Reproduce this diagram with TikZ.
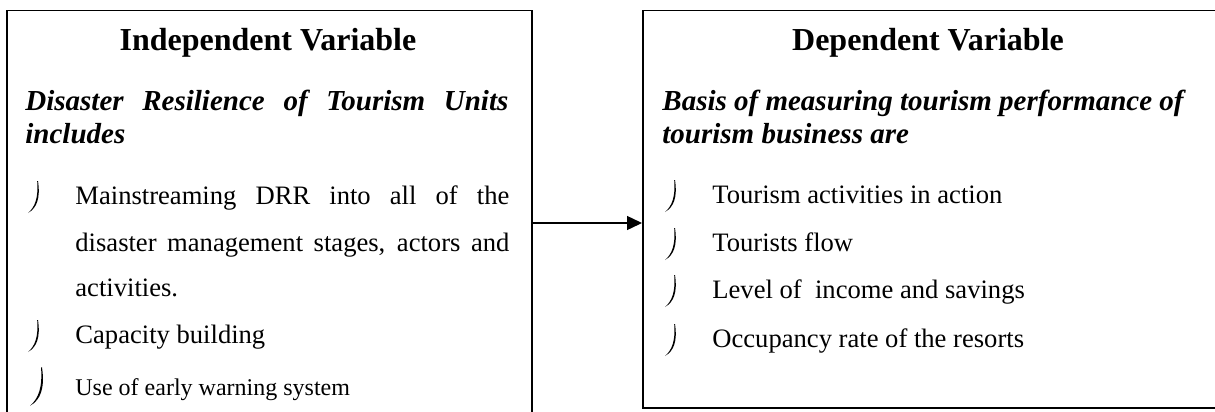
\documentclass[tikz,border=0pt]{standalone}
\usepackage{fontspec}
\setmainfont{Liberation Serif}
\usetikzlibrary{arrows.meta}
\usetikzlibrary{calc}

\begin{document}
\begin{tikzpicture}[x = 0.5pt, y = -0.5pt,
  box/.style = {draw, line width = 0.9pt, anchor = north west, inner sep = 0},
  head/.style = {anchor = base, inner sep = 0, font = \fontsize{16}{19}\selectfont\bfseries},
  lead/.style = {anchor = base west, inner sep = 0, font = \fontsize{14.5}{17}\selectfont\bfseries\itshape},
  item/.style = {anchor = base west, inner sep = 0, font = \fontsize{13.3}{16}\selectfont},
  small/.style = {anchor = base west, inner sep = 0, font = \fontsize{12}{14}\selectfont},
  arr/.style = {line width = 0.7pt, -{Triangle[length = 7.5pt, width = 7pt]}},
  pics/bul/.style = {code = {
    \fill (10, -23) .. controls (12.5, -6) and (9, 4) .. (0, 9)
      .. controls (7, 3) and (10.5, -6) .. (9.2, -23) -- cycle;}}]
  \useasboundingbox (0, 0) rectangle (1215, 412);

  % the two boxes
  \node[box, minimum width = 262.5pt, minimum height = 212pt] (indep) at (6, 9.5) {};
  \node[box, minimum width = 290pt, minimum height = 198.75pt] (dep) at (642, 9.5) {};

  % left box
  \node[head] (indeptitle) at (268, 50) {Independent Variable};
  \node[lead] (indeplead) at (25, 110)
  {\makebox[241.5pt][s]{Disaster Resilience of Tourism Units}};
  \node[lead] (indeplead2) at (25, 143) {includes};

  \pic at (28, 204) {bul};
  \node[item] (drr) at (75, 204) {\makebox[217pt][s]{Mainstreaming DRR into all of the}};
  \node[item] (drr2) at (75, 251)
  {\makebox[217pt][s]{disaster management stages, actors and}};
  \node[item] (drr3) at (75, 296) {activities.};
  \pic at (28, 343) {bul};
  \node[item] (capacity) at (75, 343) {Capacity building};
  \pic[scale = 1.2] at (30, 395) {bul};
  \node[small] (warning) at (75, 395) {Use of early warning system};

  % right box
  \node[head] (deptitle) at (928, 50) {Dependent Variable};
  \node[lead] (deplead) at (662, 110) {Basis of measuring tourism performance of};
  \node[lead] (deplead2) at (662, 143) {tourism business are};

  \pic at (665, 203) {bul};
  \node[item] (activities) at (712, 203) {Tourism activities in action};
  \pic at (665, 251) {bul};
  \node[item] (flow) at (712, 251) {Tourists flow};
  \pic at (665, 298) {bul};
  \node[item] (income) at (712, 298) {Level of\ \ income and savings};
  \pic at (665, 347) {bul};
  \node[item] (occupancy) at (712, 347) {Occupancy rate of the resorts};

  % link
  \coordinate (A) at (indep.east |- 0, 223);
  \draw[arr] (A) -- (A -| dep.west);
\end{tikzpicture}
\end{document}
